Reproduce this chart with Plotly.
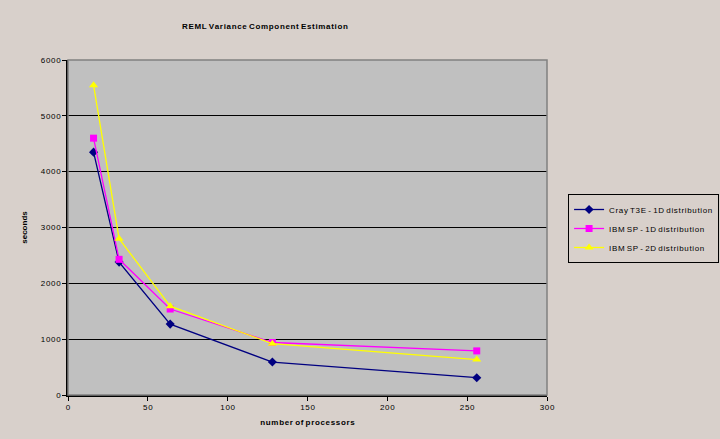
import plotly.graph_objects as go

processors = [16, 32, 64, 128, 256]
cray_t3e_1d = [4350, 2380, 1270, 590, 310]
ibm_sp_1d = [4600, 2430, 1540, 940, 790]
ibm_sp_2d = [5550, 2800, 1590, 920, 635]

series_names = ["Cray T3E - 1D distribution", "IBM SP - 1D distribution", "IBM SP - 2D distribution"]
x_ticks = [0, 50, 100, 150, 200, 250, 300]
y_ticks = [0, 1000, 2000, 3000, 4000, 5000, 6000]
title_text = "REML Variance Component Estimation"

fnt = "Liberation Sans, Arial, sans-serif"


def spaced(s):
    return " ".join("\u200a".join(w) for w in s.split(" "))


fig = go.Figure()
fig.add_trace(go.Scatter(x=processors, y=cray_t3e_1d, name=spaced(series_names[0]), mode="lines+markers",
                         line=dict(color="#000080", width=1.3),
                         marker=dict(symbol="diamond", size=7, color="#000080")))
fig.add_trace(go.Scatter(x=processors, y=ibm_sp_1d, name=spaced(series_names[1]), mode="lines+markers",
                         line=dict(color="#FF00FF", width=1.3),
                         marker=dict(symbol="square", size=7, color="#FF00FF")))
fig.add_trace(go.Scatter(x=processors, y=ibm_sp_2d, name=spaced(series_names[2]), mode="lines+markers",
                         line=dict(color="#FFFF00", width=1.3),
                         marker=dict(symbol="triangle-up", size=8, color="#FFFF00")))

fig.update_layout(
    width=720, height=439,
    margin=dict(l=68, r=173, t=60, b=44, autoexpand=False),
    paper_bgcolor="#D8D0CB",
    plot_bgcolor="#C0C0C0",
    font=dict(family=fnt, size=8, color="#000000"),
    title=dict(text="<b>" + spaced(title_text) + "</b>",
               x=0.368, xanchor="center", y=0.94, yanchor="middle",
               font=dict(family=fnt, size=8, color="#000000")),
    xaxis=dict(range=[0, 300], tickvals=x_ticks, ticktext=[spaced(str(v)) for v in x_ticks],
               showgrid=False, zeroline=False,
               showline=True, linecolor="#000000", linewidth=1.5,
               ticks="outside", ticklen=4, tickcolor="#000000",
               tickfont=dict(size=8),
               title=dict(text="<b>" + spaced("number of processors") + "</b>", font=dict(size=8), standoff=8)),
    yaxis=dict(range=[0, 6000], tickvals=y_ticks, ticktext=[spaced(str(v)) for v in y_ticks],
               showgrid=True, gridcolor="#000000", gridwidth=1,
               zeroline=False, showline=True, linecolor="#000000", linewidth=1.5,
               ticks="outside", ticklen=4, tickcolor="#000000",
               tickfont=dict(size=8),
               title=dict(text="<b>seconds</b>", font=dict(size=8), standoff=12)),
    legend=dict(x=1.044, y=0.6, xanchor="left", yanchor="top",
                bgcolor="#D8D0CB", bordercolor="#000000", borderwidth=1,
                font=dict(size=8), tracegroupgap=0, itemwidth=30),
    showlegend=True,
)
fig.add_shape(type="rect", xref="paper", yref="paper", x0=0, y0=0, x1=1, y1=1,
              line=dict(color="#808080", width=1.5), layer="above")

fig.write_html("out.html")
